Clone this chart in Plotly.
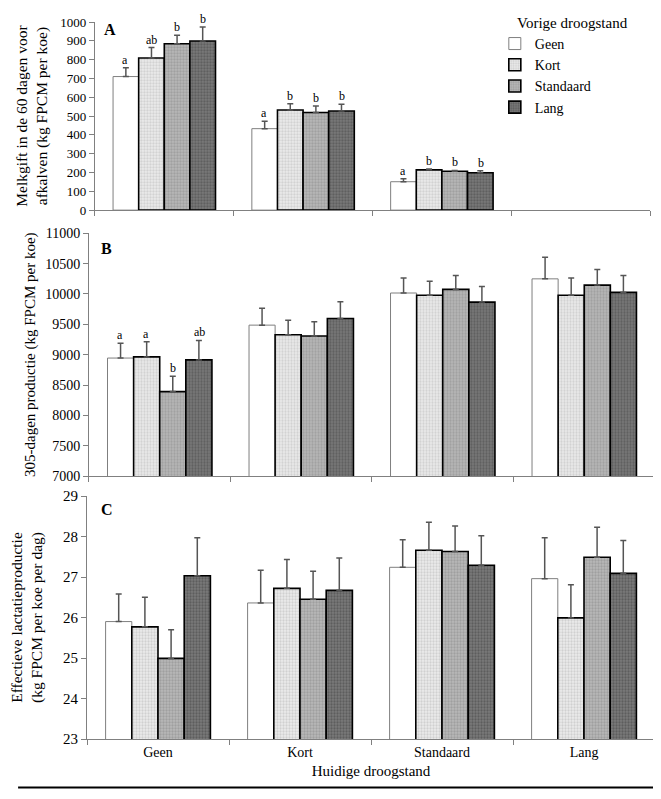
import plotly.graph_objects as go

categories = ["Geen", "Kort", "Standaard", "Lang"]
series_names = ["Geen", "Kort", "Standaard", "Lang"]

# Panel A: Melkgift in de 60 dagen voor afkalven (no Lang group data)
a_vals = {
    "Geen": [710, 433, 151, None],
    "Kort": [809, 532, 214, None],
    "Standaard": [884, 519, 207, None],
    "Lang": [899, 527, 199, None],
}
a_err = {
    "Geen": [47, 39, 16, None],
    "Kort": [55, 33, 4, None],
    "Standaard": [45, 34, 4, None],
    "Lang": [75, 36, 10, None],
}
a_letters = {
    "Geen": ["a", "a", "a", None],
    "Kort": ["ab", "b", "b", None],
    "Standaard": ["b", "b", "b", None],
    "Lang": ["b", "b", "b", None],
}

# Panel B: 305-dagen productie
b_vals = {
    "Geen": [8945, 9487, 10016, 10249],
    "Kort": [8964, 9329, 9978, 9978],
    "Standaard": [8393, 9307, 10075, 10146],
    "Lang": [8915, 9596, 9866, 10026],
}
b_err = {
    "Geen": [245, 277, 249, 354],
    "Kort": [251, 239, 232, 287],
    "Standaard": [251, 235, 228, 255],
    "Lang": [321, 277, 258, 277],
}
b_letters = {
    "Geen": ["a", None, None, None],
    "Kort": ["a", None, None, None],
    "Standaard": ["b", None, None, None],
    "Lang": ["ab", None, None, None],
}

# Panel C: Effectieve lactatieproductie
c_vals = {
    "Geen": [25.90, 26.36, 27.24, 26.96],
    "Kort": [25.77, 26.72, 27.66, 25.99],
    "Standaard": [24.99, 26.45, 27.63, 27.49],
    "Lang": [27.03, 26.67, 27.29, 27.09],
}
c_err = {
    "Geen": [0.68, 0.81, 0.68, 1.01],
    "Kort": [0.73, 0.71, 0.69, 0.82],
    "Standaard": [0.71, 0.69, 0.63, 0.74],
    "Lang": [0.94, 0.80, 0.73, 0.81],
}

styles = {
    "Geen": dict(color="white", line=dict(color="#7f7f7f", width=1)),
    "Kort": dict(color="#dedede", line=dict(color="black", width=1.6),
                 pattern=dict(shape=".", fgcolor="#b4b4b4", bgcolor="#ececec", size=3, solidity=0.45)),
    "Standaard": dict(color="#a5a5a5", line=dict(color="black", width=1.6),
                      pattern=dict(shape=".", fgcolor="#858585", bgcolor="#b8b8b8", size=3, solidity=0.45)),
    "Lang": dict(color="#606060", line=dict(color="black", width=1.6),
                 pattern=dict(shape=".", fgcolor="#404040", bgcolor="#7a7a7a", size=3, solidity=0.45)),
}

FONT = "Times New Roman"

# layout geometry (the page has an 8px body margin)
W, H = 653, 791
ML, MR, MT, MB = 70, 6, 8, 60
PW = W - ML - MR
PH = H - MT - MB
BOTTOM = H - MB + 8          # page y of the plot-area bottom


def py(page_y):
    return (BOTTOM - page_y) / PH


BARGAP = 0.262
dom_a = [(86 - 78) / PW, (650 - 78) / PW]
dom_b = [(80 - 78) / PW, 1.0]
dom_c = [0.0, 1.0]

fig = go.Figure()

panels = [
    ("y3", "x3", a_vals, a_err, a_letters, dom_a),
    ("y2", "x2", b_vals, b_err, b_letters, dom_b),
    ("y", "x", c_vals, c_err, None, dom_c),
]

for yref, xref, vals, errs, letters, dom in panels:
    for s in series_names:
        fig.add_trace(go.Bar(
            x=categories, y=vals[s], name=s, xaxis=xref, yaxis=yref,
            marker=styles[s], showlegend=(yref == "y3"),
            error_y=dict(type="data", array=errs[s], arrayminus=[0] * 4, symmetric=False,
                         color="#555555", thickness=1.5, width=3),
        ))

# significance letters above error bars
for yref, xref, vals, errs, letters, dom in panels:
    if letters is None:
        continue
    bar_px = (dom[1] - dom[0]) * PW / len(categories) * (1 - BARGAP) / len(series_names)
    for i, s in enumerate(series_names):
        for j, c in enumerate(categories):
            lt = letters[s][j]
            if lt is None:
                continue
            fig.add_annotation(x=c, y=vals[s][j] + errs[s][j], xref=xref, yref=yref,
                               text=lt, showarrow=False, yanchor="bottom", yshift=-1,
                               xshift=(i - 1.5) * bar_px,
                               font=dict(family=FONT, size=12, color="black"))

for lab, xpos, ypage in [("A", 0.026, 24), ("B", 0.021, 244), ("C", 0.021, 508)]:
    fig.add_annotation(x=xpos, y=py(ypage), xref="paper", yref="paper", text="<b>%s</b>" % lab,
                       showarrow=False, xanchor="left", yanchor="middle",
                       font=dict(family=FONT, size=16, color="black"))

fig.add_annotation(x=0.754, y=py(17), xref="paper", yref="paper", text="Vorige droogstand",
                   showarrow=False, xanchor="left", yanchor="middle",
                   font=dict(family=FONT, size=15, color="black"))

base = dict(showline=True, linecolor="#808080", linewidth=1, ticks="outside",
            ticklen=5, tickcolor="#808080", showgrid=False, zeroline=False)

fig.update_layout(
    width=W, height=H,
    margin=dict(l=ML, r=MR, t=MT, b=MB),
    plot_bgcolor="white", paper_bgcolor="white",
    barmode="group", bargap=BARGAP, bargroupgap=0,
    font=dict(family=FONT, size=13, color="black"),
    legend=dict(x=0.718, y=py(22), xanchor="left", yanchor="top",
                font=dict(family=FONT, size=14), tracegroupgap=0, itemwidth=30,
                bgcolor="rgba(0,0,0,0)"),
    xaxis=dict(domain=dom_c, anchor="y", type="category", tickson="boundaries",
               title=dict(text="Huidige droogstand", font=dict(family=FONT, size=15), standoff=6),
               tickfont=dict(family=FONT, size=14, color="black"), **base),
    yaxis=dict(domain=[0, py(494)], anchor="x", range=[23, 29], dtick=1,
               tickfont=dict(family=FONT, size=15, color="black"),
               title=dict(text="Effectieve lactatieproductie<br>(kg FPCM per koe per dag)",
                          font=dict(family=FONT, size=15.5), standoff=18),
               **base),
    xaxis2=dict(domain=dom_b, anchor="y2", type="category", tickson="boundaries",
                showticklabels=False, **base),
    yaxis2=dict(domain=[py(474), py(229)], anchor="x2", range=[7000, 11000], dtick=500,
                tickformat="d", tickfont=dict(family=FONT, size=14, color="black"),
                title=dict(text="305-dagen productie (kg FPCM per koe)",
                           font=dict(family=FONT, size=15), standoff=5),
                **base),
    xaxis3=dict(domain=dom_a, anchor="y3", type="category", tickson="boundaries",
                showticklabels=False, **base),
    yaxis3=dict(domain=[py(205.7), 1], anchor="x3", range=[0, 1000], dtick=100,
                tickfont=dict(family=FONT, size=13, color="black"),
                title=dict(text="Melkgift in de 60 dagen voor<br>afkalven (kg FPCM per koe)",
                           font=dict(family=FONT, size=15.5), standoff=8),
                **base),
)

fig.add_shape(type="line", xref="paper", yref="paper", x0=-ML / PW, x1=(W - ML) / PW,
              y0=py(788), y1=py(788), line=dict(color="black", width=2))

fig.write_html("out.html")
